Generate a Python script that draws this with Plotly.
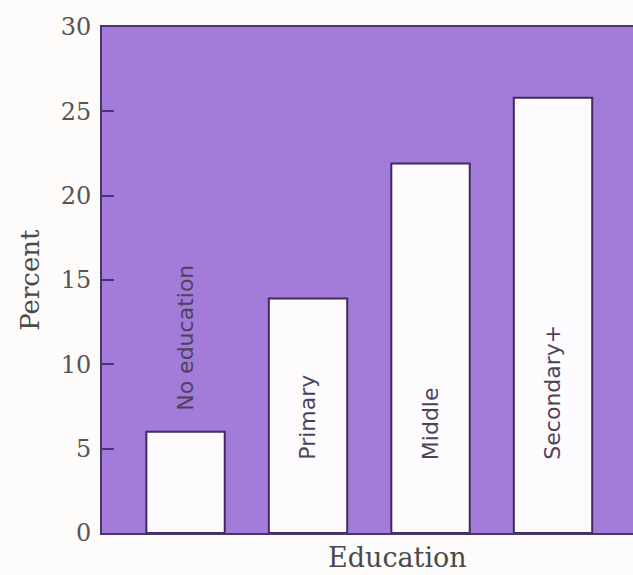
import plotly.graph_objects as go

categories = ["No education", "Primary", "Middle", "Secondary+"]
percent = [6.0, 13.9, 21.9, 25.8]
y_ticks = [0, 5, 10, 15, 20, 25, 30]

PURPLE = "#a37bdb"
DARK = "#4a3470"

fig = go.Figure()
fig.add_trace(go.Bar(
    x=list(range(len(categories))),
    y=percent,
    width=0.64,
    marker=dict(color="#fdfbfd", line=dict(color="#3e2d5c", width=2)),
    hoverinfo="skip",
    showlegend=False,
))

# rotated category labels: inside the bar when it is tall enough, above otherwise
for i, (cat, v) in enumerate(zip(categories, percent)):
    label_y = v + 1.1 if v < 8 else 4.2
    fig.add_annotation(
        x=i, y=label_y, xref="x", yref="y",
        text=cat, textangle=-90, showarrow=False,
        xanchor="center", yanchor="bottom",
        font=dict(family="DejaVu Sans, sans-serif", size=22, color="#4d4358"),
    )

fig.add_annotation(
    xref="paper", yref="paper", x=0.557, y=-0.083,
    text="Education", showarrow=False, xanchor="center", yanchor="bottom",
    font=dict(family="DejaVu Serif, serif", size=27, color="#4a4a4a"),
)
fig.add_annotation(
    xref="paper", yref="paper", x=-0.136, y=0.5,
    text="Percent", textangle=-90, showarrow=False, xanchor="center", yanchor="middle",
    font=dict(family="DejaVu Serif, serif", size=26, color="#4a4a4a"),
)

fig.update_layout(
    width=633, height=575,
    margin=dict(l=102, r=0, t=27, b=42),
    paper_bgcolor="#fdfcfa",
    plot_bgcolor=PURPLE,
    bargap=0.36,
)
fig.update_xaxes(
    range=[-0.682, 3.653],
    showticklabels=False, ticks="",
    showgrid=False, zeroline=False,
    showline=True, linecolor=DARK, linewidth=2, mirror=True,
)
fig.update_yaxes(
    range=[0, 30], tickvals=y_ticks,
    ticks="inside", ticklen=12, tickwidth=2, tickcolor=DARK,
    showgrid=False, zeroline=False,
    showline=True, linecolor=DARK, linewidth=2,
    tickfont=dict(family="DejaVu Serif, serif", size=24, color="#555555"),
    ticklabelstandoff=4,
)

fig.write_html("out.html")
